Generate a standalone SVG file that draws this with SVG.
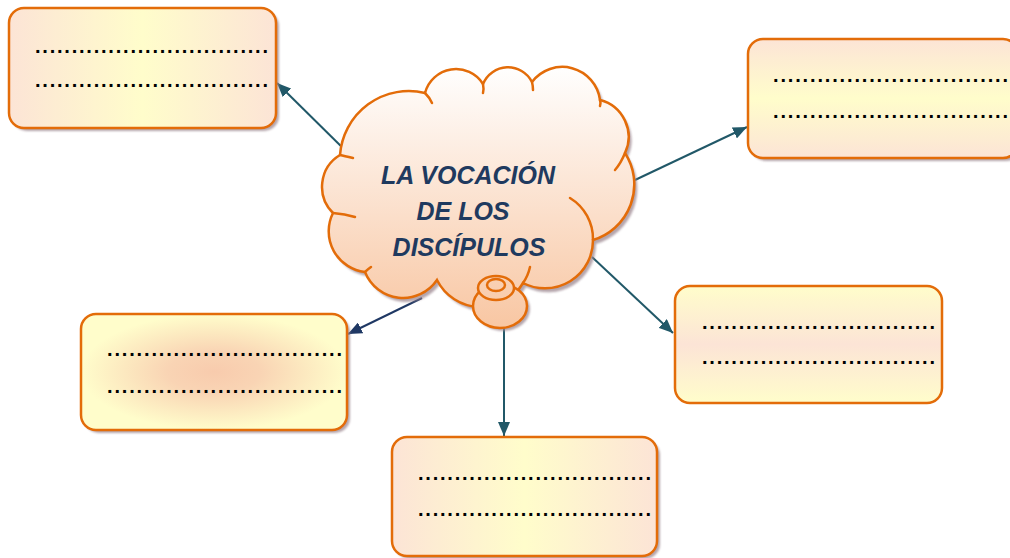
<svg xmlns="http://www.w3.org/2000/svg" width="1010" height="558" viewBox="0 0 1010 558">
<style>
.box{stroke:#E36C09;stroke-width:2.5}
.shadow{fill:#9C8790;opacity:0.75;filter:url(#blur)}
.dots{font-family:"Liberation Sans",Arial,sans-serif;font-size:20px;font-weight:bold;fill:#000}
.title{font-family:"Liberation Sans",Arial,sans-serif;font-size:25px;font-weight:bold;font-style:italic;fill:#1F3A5F;text-anchor:middle}
.cl{stroke:#E36C09;stroke-width:2.5;stroke-linecap:round}
.tick{fill:none}
.cf{fill:url(#gc)}
.conn{stroke:#215868;stroke-width:2;fill:none}
</style>
<defs>
<filter id="blur" x="-10%" y="-10%" width="120%" height="120%"><feGaussianBlur stdDeviation="1.2"/></filter>
<linearGradient id="gh" x1="0" y1="0" x2="1" y2="0">
<stop offset="0" stop-color="#FCE4D6"/><stop offset="0.5" stop-color="#FFFDCB"/><stop offset="1" stop-color="#FCE4D6"/>
</linearGradient>
<linearGradient id="gv" x1="0" y1="0" x2="0" y2="1">
<stop offset="0" stop-color="#FCE4D6"/><stop offset="0.5" stop-color="#FFFDCB"/><stop offset="1" stop-color="#FCE4D6"/>
</linearGradient>
<linearGradient id="gv2" x1="0" y1="0" x2="0" y2="1">
<stop offset="0" stop-color="#FFFDCB"/><stop offset="0.5" stop-color="#FCE4D6"/><stop offset="1" stop-color="#FFFDCB"/>
</linearGradient>
<radialGradient id="gr" cx="0.5" cy="0.5" r="0.5">
<stop offset="0" stop-color="#F8CBAD"/><stop offset="0.35" stop-color="#F9D4B4"/><stop offset="1" stop-color="#FFFDCB"/>
</radialGradient>
<linearGradient id="gc" x1="0" y1="65" x2="0" y2="330" gradientUnits="userSpaceOnUse">
<stop offset="0" stop-color="#FFFFFF"/><stop offset="1" stop-color="#F8C6A2"/>
</linearGradient>
<marker id="ah" markerWidth="14" markerHeight="12" refX="14" refY="6" orient="auto" markerUnits="userSpaceOnUse">
<path d="M0,0 L14,6 L0,12 Z" fill="#215868"/>
</marker>
<marker id="ahn" markerWidth="14" markerHeight="12" refX="14" refY="6" orient="auto" markerUnits="userSpaceOnUse">
<path d="M0,0 L14,6 L0,12 Z" fill="#1F3864"/>
</marker>
<path id="cloudPath" d="M340,155 A69,69 0 0 1 425,93 A32,32 0 0 1 483,84 A27,27 0 0 1 532,82 A38,38 0 0 1 600,100 A38,38 0 0 1 625,153 A58,58 0 0 1 593,240 A48,48 0 0 1 523,283 A49,49 0 0 1 437,280 A41,41 0 0 1 365,272 A41,41 0 0 1 333,213 A37,37 0 0 1 340,155 Z"/>
</defs>

<g id="connectors">
<line class="conn" x1="353" y1="158" x2="277" y2="83" marker-end="url(#ah)"/>
<line class="conn" x1="635" y1="180" x2="747" y2="127" marker-end="url(#ah)"/>
<line class="conn" x1="592" y1="257" x2="673" y2="333" marker-end="url(#ah)"/>
<line class="conn" x1="422" y1="298" x2="348" y2="334" style="stroke:#1F3864" marker-end="url(#ahn)"/>
<line class="conn" x1="504" y1="323" x2="504" y2="436" marker-end="url(#ah)"/>
</g>

<g id="cloud">
<use href="#cloudPath" transform="translate(3,4)" class="shadow"/>
<ellipse cx="503" cy="309" rx="27" ry="22" class="shadow"/>
<use href="#cloudPath" class="cl cf"/>
<path class="cl tick" d="M353,158 Q344,156 340,155"/>
<path class="cl tick" d="M425,93 Q430,98 432,103"/>
<path class="cl tick" d="M483,84 Q484,89 483,93"/>
<path class="cl tick" d="M532,82 Q533,86 533,90"/>
<path class="cl tick" d="M600,100 Q601,103 600,106"/>
<path class="cl tick" d="M625,153 Q621,163 615,170"/>
<path class="cl tick" d="M570,198 A48,48 0 0 1 593,240"/>
<path class="cl tick" d="M530,267 Q528,276 523,283"/>
<path class="cl tick" d="M365,272 Q368,269 371,267"/>
<path class="cl tick" d="M333,213 Q345,214 355,217"/>
<ellipse cx="500" cy="306" rx="27" ry="22" class="cl cf"/>
<ellipse cx="496" cy="288" rx="18" ry="12" class="cl cf"/>
<ellipse cx="496" cy="285" rx="9" ry="6" class="cl tick"/>
<text class="title" x="468" y="184">LA VOCACIÓN</text>
<text class="title" x="463" y="220">DE LOS</text>
<text class="title" x="469" y="256">DISCÍPULOS</text>
</g>

<g id="box1">
<rect x="12" y="11" width="267" height="120" rx="15" class="shadow"/>
<rect x="9" y="8" width="267" height="120" rx="15" fill="url(#gh)" class="box"/>
<text class="dots" x="35" y="53" textLength="233" lengthAdjust="spacing">................................</text>
<text class="dots" x="35" y="87" textLength="233" lengthAdjust="spacing">................................</text>
</g>

<g id="box2">
<rect x="751" y="42" width="270" height="119" rx="15" class="shadow"/>
<rect x="748" y="39" width="270" height="119" rx="15" fill="url(#gv)" class="box"/>
<text class="dots" x="773" y="82" textLength="235" lengthAdjust="spacing">................................</text>
<text class="dots" x="773" y="118" textLength="235" lengthAdjust="spacing">................................</text>
</g>

<g id="box3">
<rect x="84" y="317" width="266" height="116" rx="15" class="shadow"/>
<rect x="81" y="314" width="266" height="116" rx="15" fill="url(#gr)" class="box"/>
<text class="dots" x="107" y="356" textLength="235" lengthAdjust="spacing">................................</text>
<text class="dots" x="107" y="393" textLength="235" lengthAdjust="spacing">................................</text>
</g>

<g id="box4">
<rect x="395" y="440" width="265" height="119" rx="15" class="shadow"/>
<rect x="392" y="437" width="265" height="119" rx="15" fill="url(#gh)" class="box"/>
<text class="dots" x="418" y="480" textLength="233" lengthAdjust="spacing">................................</text>
<text class="dots" x="418" y="516" textLength="233" lengthAdjust="spacing">................................</text>
</g>

<g id="box5">
<rect x="675" y="286" width="267" height="117" rx="15" fill="url(#gv2)" class="box"/>
<text class="dots" x="702" y="329" textLength="233" lengthAdjust="spacing">................................</text>
<text class="dots" x="702" y="364" textLength="233" lengthAdjust="spacing">................................</text>
</g>
</svg>
